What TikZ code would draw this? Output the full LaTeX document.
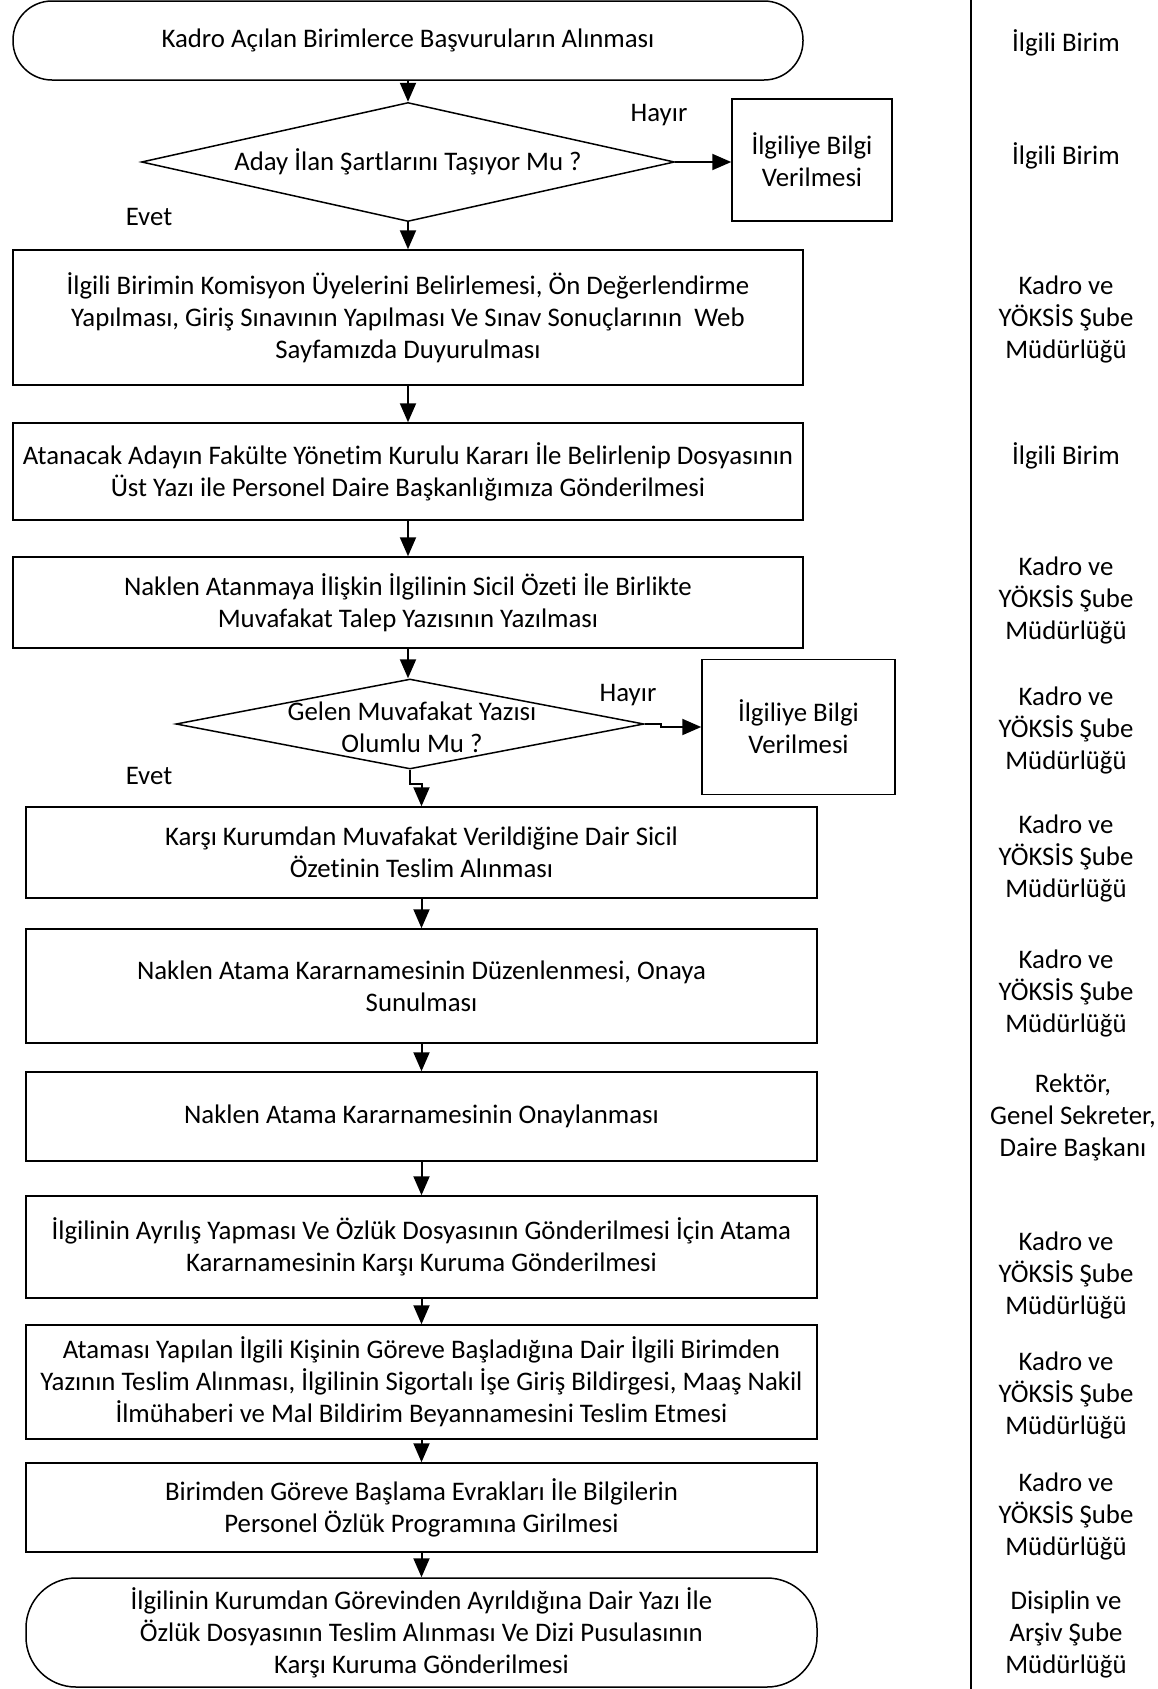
\documentclass[tikz,border=0pt]{standalone}
\usepackage{fontspec}
\setmainfont{Carlito}[Ligatures={NoCommon}]
\usetikzlibrary{arrows.meta,shapes.geometric}
\begin{document}
\begin{tikzpicture}[x=1pt,y=-1pt,
  every node/.style={font=\fontsize{26.8}{32}\selectfont},
  pbox/.style={draw, line width=1.5pt, align=center, inner sep=0pt},
  term/.style={pbox},
  dia/.style={draw, diamond, line width=1.5pt, inner sep=0pt},
  arr/.style={-{Triangle[width=16pt,length=19pt]}, line width=2pt},
  lbl/.style={inner sep=0pt},
  rtext/.style={align=center, inner sep=0pt}]
\useasboundingbox (0,0) rectangle (1158,1689);
% main flow
\node[term, rounded corners=39pt, minimum width=790pt, minimum height=79pt] (s) at (408,40.5) {Kadro Açılan Birimlerce Başvuruların Alınması};
\node[dia, minimum width=533pt, minimum height=119pt] (d1) at (408,162) {};
\node[lbl] (d1t) at (d1.center) {Aday İlan Şartlarını Taşıyor Mu ?};
\node[pbox, minimum width=160pt, minimum height=122pt] (n1) at (812,160) {İlgiliye Bilgi\\Verilmesi};
\node[lbl] (h1) at (659,115) {Hayır};
\node[lbl] (e1) at (149,217) {Evet};
\node[pbox, minimum width=790pt, minimum height=135pt] (b2) at (408,317.5) {İlgili Birimin Komisyon Üyelerini Belirlemesi, Ön Değerlendirme\\Yapılması, Giriş Sınavının Yapılması Ve Sınav Sonuçlarının~ Web\\Sayfamızda Duyurulması};
\node[pbox, minimum width=790pt, minimum height=97pt] (b3) at (408,471.5) {Atanacak Adayın Fakülte Yönetim Kurulu Kararı İle Belirlenip Dosyasının\\Üst Yazı ile Personel Daire Başkanlığımıza Gönderilmesi};
\node[pbox, minimum width=790pt, minimum height=91pt] (b4) at (408,602.5) {Naklen Atanmaya İlişkin İlgilinin Sicil Özeti İle Birlikte\\Muvafakat Talep Yazısının Yazılması};
\node[dia, minimum width=468pt, minimum height=90pt] (d2) at (410,724) {};
\node[lbl, align=center] (d2t) at (412,727) {Gelen Muvafakat Yazısı\\Olumlu Mu ?};
\node[pbox, minimum width=193pt, minimum height=135pt] (n2) at (798.5,727) {İlgiliye Bilgi\\Verilmesi};
\node[lbl] (h2) at (628,695) {Hayır};
\node[lbl] (e2) at (149,776) {Evet};
\node[pbox, minimum width=791pt, minimum height=91pt] (b5) at (421.5,852.5) {Karşı Kurumdan Muvafakat Verildiğine Dair Sicil\\Özetinin Teslim Alınması};
\node[pbox, minimum width=791pt, minimum height=114pt] (b6) at (421.5,986) {Naklen Atama Kararnamesinin Düzenlenmesi, Onaya\\Sunulması};
\node[pbox, minimum width=791pt, minimum height=89pt] (b7) at (421.5,1116.5) {Naklen Atama Kararnamesinin Onaylanması};
\node[pbox, minimum width=791pt, minimum height=102pt] (b8) at (421.5,1247) {İlgilinin Ayrılış Yapması Ve Özlük Dosyasının Gönderilmesi İçin Atama\\Kararnamesinin Karşı Kuruma Gönderilmesi};
\node[pbox, minimum width=791pt, minimum height=114pt] (b9) at (421.5,1382) {Ataması Yapılan İlgili Kişinin Göreve Başladığına Dair İlgili Birimden\\Yazının Teslim Alınması, İlgilinin Sigortalı İşe Giriş Bildirgesi, Maaş Nakil\\İlmühaberi ve Mal Bildirim Beyannamesini Teslim Etmesi};
\node[pbox, minimum width=791pt, minimum height=89pt] (b10) at (421.5,1507.5) {Birimden Göreve Başlama Evrakları İle Bilgilerin\\Personel Özlük Programına Girilmesi};
\node[term, rounded corners=50pt, minimum width=791pt, minimum height=109pt] (e) at (421.5,1632.5) {İlgilinin Kurumdan Görevinden Ayrıldığına Dair Yazı İle\\Özlük Dosyasının Teslim Alınması Ve Dizi Pusulasının\\Karşı Kuruma Gönderilmesi};
% connectors
\draw[arr] (s.south) -- (d1.north);
\draw[arr] (d1.east) -- (d1.east -| n1.west);
\draw[arr] (d1.south) -- (b2.north);
\draw[arr] (b2.south) -- (b3.north);
\draw[arr] (b3.south) -- (b4.north);
\draw[arr] (b4.south) -- (b4.south |- d2.north);
\draw[arr] (d2.east) -- ++(16,0) |- (n2.west);
\draw[arr] (d2.south) -- ++(0,14) -| (b5.north);
\draw[arr] (b5.south) -- (b6.north);
\draw[arr] (b6.south) -- (b7.north);
\draw[arr] (b7.south) -- (b8.north);
\draw[arr] (b8.south) -- (b9.north);
\draw[arr] (b9.south) -- (b10.north);
\draw[arr] (b10.south) -- (e.north);
% separator
\coordinate (sepT) at (971,0);
\coordinate (sepB) at (971,1689);
\draw[line width=2.5pt] (sepT) -- (sepB);
% responsible units
\node[rtext] (r1) at (1066,43) {İlgili Birim};
\node[rtext] (r2) at (1066,156) {İlgili Birim};
\node[rtext] (r3) at (1066,319) {Kadro ve\\YÖKSİS Şube\\Müdürlüğü};
\node[rtext] (r4) at (1066,456) {İlgili Birim};
\node[rtext] (r5) at (1066,600) {Kadro ve\\YÖKSİS Şube\\Müdürlüğü};
\node[rtext] (r6) at (1066,730) {Kadro ve\\YÖKSİS Şube\\Müdürlüğü};
\node[rtext] (r7) at (1066,858) {Kadro ve\\YÖKSİS Şube\\Müdürlüğü};
\node[rtext] (r8) at (1066,993) {Kadro ve\\YÖKSİS Şube\\Müdürlüğü};
\node[rtext] (r9) at (1073,1117) {Rektör,\\Genel Sekreter,\\Daire Başkanı};
\node[rtext] (r10) at (1066,1275) {Kadro ve\\YÖKSİS Şube\\Müdürlüğü};
\node[rtext] (r11) at (1066,1395) {Kadro ve\\YÖKSİS Şube\\Müdürlüğü};
\node[rtext] (r12) at (1066,1516) {Kadro ve\\YÖKSİS Şube\\Müdürlüğü};
\node[rtext] (r13) at (1066,1634) {Disiplin ve\\Arşiv Şube\\Müdürlüğü};
\end{tikzpicture}
\end{document}
